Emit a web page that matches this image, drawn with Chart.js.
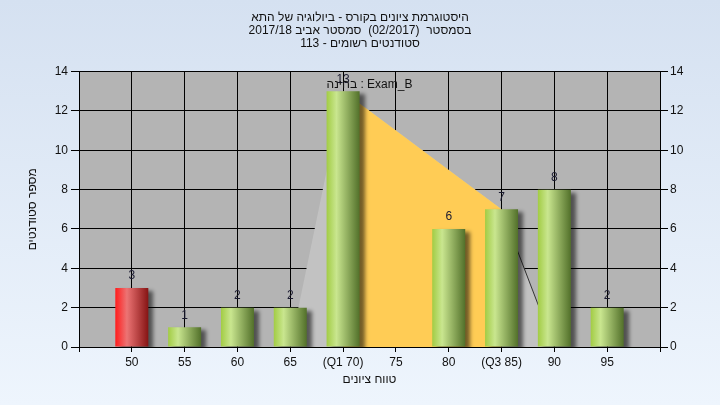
<!DOCTYPE html>
<html>
<head>
<meta charset="utf-8">
<script src="https://cdn.jsdelivr.net/npm/chart.js@4"></script>
<style>
  html, body { margin: 0; padding: 0; }
  #wrap { width: 720px; height: 405px; background: linear-gradient(#d5e1f1, #eef5fd); }
</style>
</head>
<body>
<div id="wrap"><canvas id="histChart" width="720" height="405"></canvas></div>
<script>
// histogram data
const categories = ['50', '55', '60', '65', '(Q1 70)', '75', '80', '(Q3 85)', '90', '95'];
const counts = [3, 1, 2, 2, 13, 0, 6, 7, 8, 2];
const spreadLine = [null, null, null, 0, 13, 11, 9, 7, 0, null];
const iqrLine = [null, null, null, null, 13, 11, 9, 7, null, null];
const failBins = ['50'];
const yTicks = [0, 2, 4, 6, 8, 10, 12, 14];
const titleLines = [
    'היסטוגרמת ציונים בקורס - ביולוגיה של התא',
    'בסמסטר  (02/2017)  סמסטר אביב 2017/18',
    'סטודנטים רשומים - 113'
];
const examLabel = 'בחינה : Exam_B';

// empty slot on each side of the categories
const labels = [''].concat(categories, ['']);
const pad = arr => [null].concat(arr, [null]);

Chart.defaults.font.family = "'Liberation Sans', Arial, sans-serif";
Chart.defaults.font.size = 12;
Chart.defaults.color = '#111';

const barPct = 0.625;

function barFill(c) {
    const chart = c.chart;
    if (!chart.chartArea || c.dataIndex === undefined) return '#a6ce50';
    const xs = chart.scales.x;
    const cx = xs.getPixelForValue(c.dataIndex);
    const half = (xs.getPixelForValue(1) - xs.getPixelForValue(0)) * barPct / 2;
    const g = chart.ctx.createLinearGradient(cx - half, 0, cx + half, 0);
    if (failBins.includes(labels[c.dataIndex])) {
        g.addColorStop(0, '#ff1c1c');
        g.addColorStop(0.35, '#ec7474');
        g.addColorStop(1, '#861414');
    } else {
        g.addColorStop(0, '#a2cc44');
        g.addColorStop(0.3, '#c9e68f');
        g.addColorStop(1, '#52702a');
    }
    return g;
}

const plotBg = {
    id: 'plotBg',
    beforeDatasetsDraw(chart) {
        const a = chart.chartArea, ctx = chart.ctx;
        ctx.save();
        ctx.globalCompositeOperation = 'destination-over';
        ctx.fillStyle = '#b4b4b4';
        ctx.fillRect(a.left, a.top, a.right - a.left, a.bottom - a.top);
        ctx.restore();
    }
};

const barShadow = {
    id: 'barShadow',
    beforeDatasetDraw(chart, args) {
        if (args.meta.type !== 'bar') return;
        const ctx = chart.ctx;
        ctx.save();
        ctx.shadowColor = 'rgba(0,0,0,0.55)';
        ctx.shadowOffsetX = 5;
        ctx.shadowOffsetY = 3;
        ctx.shadowBlur = 4;
    },
    afterDatasetDraw(chart, args) {
        if (args.meta.type !== 'bar') return;
        chart.ctx.restore();
    }
};

const valueLabels = {
    id: 'valueLabels',
    afterDatasetsDraw(chart) {
        const ctx = chart.ctx;
        const meta = chart.getDatasetMeta(0);
        ctx.save();
        ctx.font = "12px 'Liberation Sans', Arial, sans-serif";
        ctx.fillStyle = '#1a1a30';
        ctx.textAlign = 'center';
        ctx.textBaseline = 'middle';
        meta.data.forEach((bar, i) => {
            const v = chart.data.datasets[0].data[i];
            if (!v) return;
            ctx.fillText(String(v), bar.x, bar.y - 12);
        });
        const a = chart.chartArea;
        ctx.fillStyle = '#111';
        ctx.fillText(examLabel, (a.left + a.right) / 2, a.top + 13);
        ctx.restore();
    }
};

new Chart(document.getElementById('histChart'), {
    type: 'bar',
    data: {
        labels: labels,
        datasets: [{
            type: 'bar',
            data: pad(counts),
            backgroundColor: barFill,
            barPercentage: barPct,
            categoryPercentage: 1,
            order: 0
        }, {
            type: 'line',
            data: pad(iqrLine),
            borderWidth: 0,
            borderColor: 'rgba(0,0,0,0)',
            backgroundColor: '#ffcc55',
            fill: 'origin',
            pointRadius: 0,
            tension: 0,
            order: 1
        }, {
            type: 'line',
            data: pad(spreadLine),
            borderWidth: 1,
            borderColor: 'rgba(0,0,0,0)',
            segment: {
                borderColor: s => s.p0DataIndex === 8 ? '#333' : 'rgba(0,0,0,0)'
            },
            backgroundColor: '#c2c2c2',
            fill: 'origin',
            pointRadius: 0,
            tension: 0,
            order: 2
        }]
    },
    options: {
        responsive: false,
        animation: false,
        layout: { padding: 0 },
        plugins: {
            legend: { display: false },
            tooltip: { enabled: false },
            title: {
                display: true,
                text: titleLines,
                color: '#111',
                font: { size: 12, weight: 'normal', lineHeight: 1.1 },
                padding: { top: 11, bottom: 21 }
            }
        },
        scales: {
            x: {
                offset: false,
                grid: { offset: false, color: '#000', tickLength: 5, tickColor: '#000' },
                border: { color: '#000' },
                ticks: { color: '#111', padding: 3, autoSkip: false, maxRotation: 0 },
                title: { display: true, text: 'טווח ציונים', color: '#111', padding: { top: 4, bottom: 18 } },
                afterFit: s => { s.height = 58; }
            },
            y: {
                min: 0,
                max: 14,
                afterBuildTicks: s => { s.ticks = yTicks.map(v => ({ value: v })); },
                grid: { color: '#000', tickLength: 8, tickColor: '#000' },
                border: { color: '#000' },
                ticks: { color: '#111', padding: 3 },
                title: { display: true, text: 'מספר סטודנטים', color: '#111', padding: { top: 25, bottom: 0 } },
                afterFit: s => { s.width = 79; }
            },
            y2: {
                position: 'right',
                min: 0,
                max: 14,
                afterBuildTicks: s => { s.ticks = yTicks.map(v => ({ value: v })); },
                grid: { drawOnChartArea: false, tickLength: 8, tickColor: '#000' },
                border: { color: '#000' },
                ticks: { color: '#111', padding: 2 },
                afterFit: s => { s.width = 60; }
            }
        }
    },
    plugins: [plotBg, barShadow, valueLabels]
});
</script>
</body>
</html>
